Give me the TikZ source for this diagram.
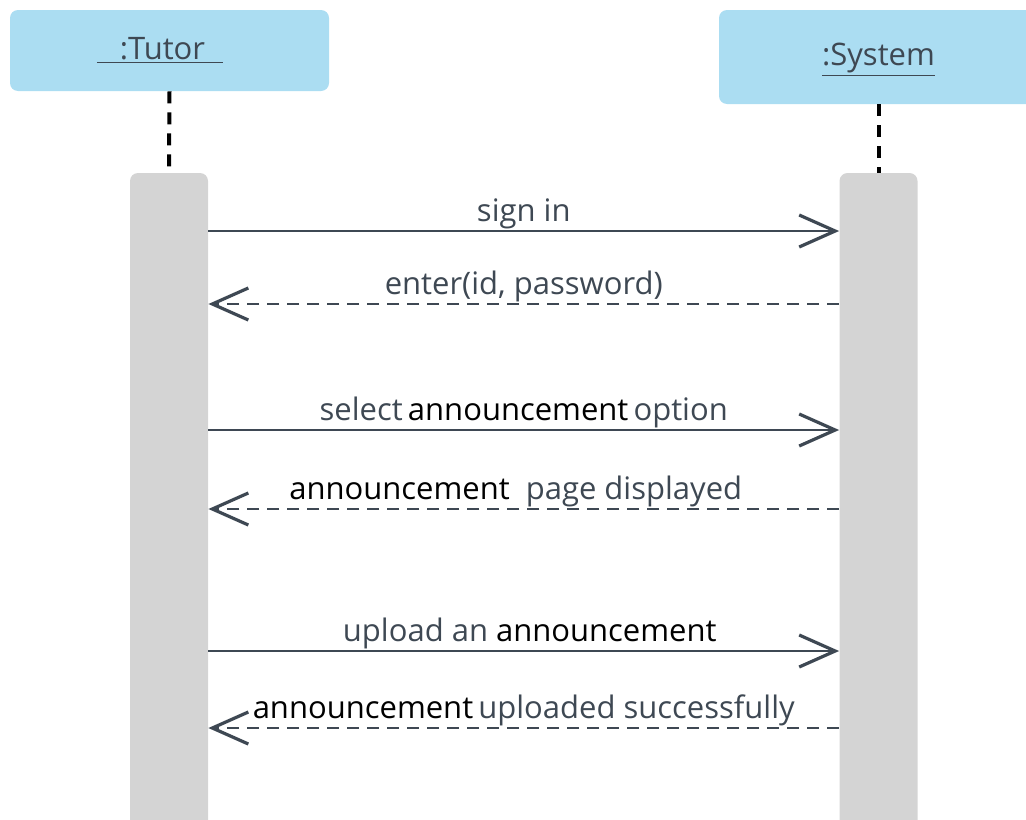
\documentclass[tikz,border=0pt]{standalone}
\usepackage{fontspec}
\setmainfont{Open Sans}
\usetikzlibrary{positioning,arrows.meta}

\definecolor{headblue}{HTML}{ABDDF2}
\definecolor{bargray}{HTML}{D4D4D4}
\definecolor{msgline}{HTML}{3E4853}

\newcommand{\ann}{\textcolor{black}{announcement}}

\begin{document}
\begin{tikzpicture}[
		x=0.5pt, y=-0.5pt,
		font=\fontsize{15.5}{18}\selectfont,
		head/.style={fill=headblue, rounded corners=4pt, inner sep=0pt, minimum width=159.5pt},
		headtext/.style={text=msgline, inner sep=0pt},
		bar/.style={fill=bargray, rounded corners=4pt, inner sep=0pt, minimum width=39pt, minimum height=333.5pt},
		lifeline/.style={line width=2pt, dash pattern=on 6pt off 4.5pt},
		call/.style={draw=msgline, line width=1.3pt, -{Straight Barb[length=18pt,width=16pt,line width=1.6pt]}},
		reply/.style={call, dash pattern=on 6pt off 4pt},
		msg/.style={text=msgline, midway, above=0pt, inner sep=0.5pt, text depth=3.5pt},
	]
		\useasboundingbox (0,0) rectangle (1026,819);
		\clip (0,0) rectangle (1026,819);

		\node [head, minimum height=40.5pt] (tutor) at (169.5,50.5) {};
		\node [headtext, xshift=-4.75pt] (tutorname) at (tutor.center) {\underline{\hspace{11.5pt}:Tutor\hspace{9pt}}};
		\node [head, minimum height=47pt] (system) at (878.5,57) {};
		\node [headtext, yshift=-1.5pt] (systemname) at (system.center) {\underline{:System}};

		\node [bar] (tbar) at (169,506.5) {};
		\node [bar] (sbar) at (878.5,506.5) {};

		\draw [lifeline] (tutor.south) -- (tbar.north);
		\draw [lifeline] (system.south) -- (sbar.north);

		\coordinate (m1) at (0,231);
		\coordinate (m2) at (0,304);
		\coordinate (m3) at (0,430);
		\coordinate (m4) at (0,509);
		\coordinate (m5) at (0,651);
		\coordinate (m6) at (0,728);

		\draw [call] (tbar.east |- m1) -- node[msg] {sign in} (sbar.west |- m1);
		\draw [reply] (sbar.west |- m2) -- node[msg] {enter(id, password)} (tbar.east |- m2);
		\draw [call] (tbar.east |- m3) -- node[msg] {select\,\ann\,option} (sbar.west |- m3);
		\draw [reply] (sbar.west |- m4) -- node[msg, xshift=-4pt] {\ann\ \ page displayed} (tbar.east |- m4);
		\draw [call] (tbar.east |- m5) -- node[msg, xshift=3pt] {upload an \ann} (sbar.west |- m5);
		\draw [reply] (sbar.west |- m6) -- node[msg] {\ann\,uploaded successfully} (tbar.east |- m6);
	\end{tikzpicture}
\end{document}
